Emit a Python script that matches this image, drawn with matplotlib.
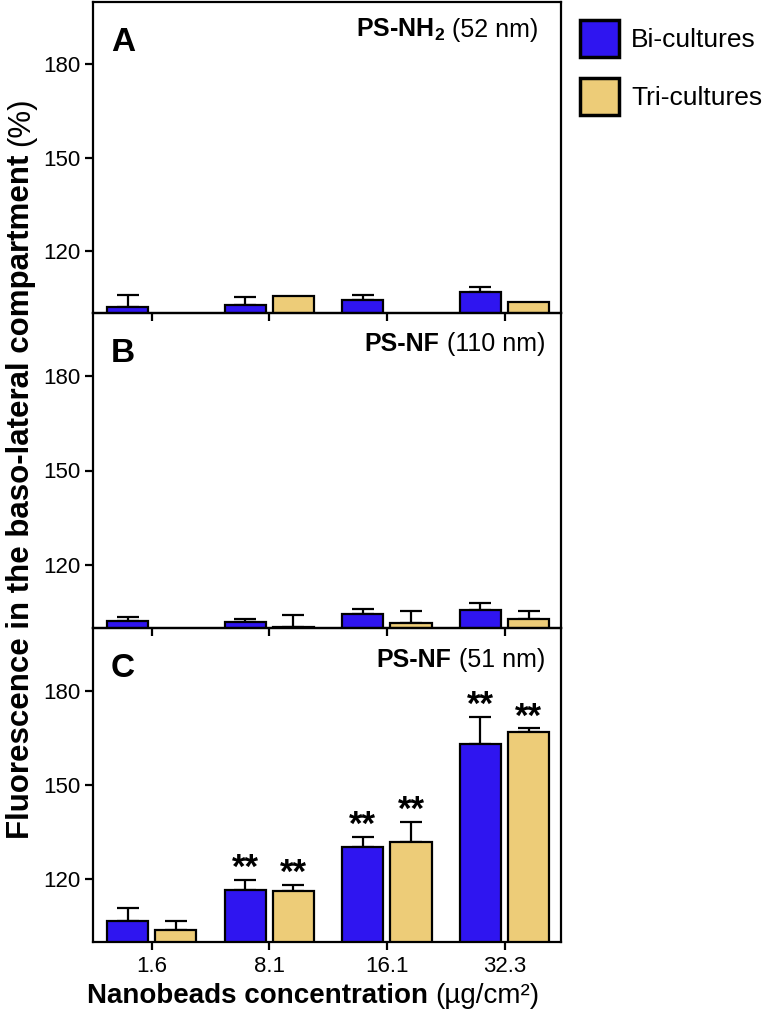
import numpy as np
import matplotlib
matplotlib.use("Agg")
import matplotlib.pyplot as plt
from matplotlib.patches import Patch

plt.rcParams['font.family'] = ['Liberation Sans', 'DejaVu Sans']
plt.rcParams['mathtext.fontset'] = 'custom'
plt.rcParams['mathtext.rm'] = 'Liberation Sans'
plt.rcParams['mathtext.bf'] = 'Liberation Sans:bold'

# ---------------- data ----------------
concentrations = ["1.6", "8.1", "16.1", "32.3"]
series_names = ["Bi-cultures", "Tri-cultures"]

panel_letters = ["A", "B", "C"]
panel_bold = ["PS-NH$_\\mathbf{2}$", "PS-NF", "PS-NF"]
panel_size = ["(52 nm)", "(110 nm)", "(51 nm)"]

# Panel A: PS-NH2 (52 nm)
a_bi = [101.9, 102.7, 104.3, 106.9]
a_bi_err = [4.0, 2.5, 1.6, 1.6]
a_tri = [np.nan, 105.5, np.nan, 103.5]
a_tri_err = [np.nan, 0.0, np.nan, 0.0]

# Panel B: PS-NF (110 nm)
b_bi = [102.3, 101.9, 104.6, 105.6]
b_bi_err = [1.2, 1.1, 1.5, 2.2]
b_tri = [np.nan, 100.4, 101.7, 103.0]
b_tri_err = [np.nan, 3.7, 3.6, 2.4]

# Panel C: PS-NF (51 nm)
c_bi = [106.6, 116.7, 130.3, 163.2]
c_bi_err = [4.2, 3.2, 3.1, 8.6]
c_tri = [103.7, 116.4, 131.7, 167.0]
c_tri_err = [2.9, 1.9, 6.5, 1.0]
c_bi_sig = ["", "**", "**", "**"]
c_tri_sig = ["", "**", "**", "**"]

panels = [
    (a_bi, a_bi_err, a_tri, a_tri_err, None, None),
    (b_bi, b_bi_err, b_tri, b_tri_err, None, None),
    (c_bi, c_bi_err, c_tri, c_tri_err, c_bi_sig, c_tri_sig),
]

yticks = [120, 150, 180]
ylim = (100, 200)

# ---------------- style ----------------
BLUE = "#2F15F0"
YELLOW = "#EDCC78"
W_PX, H_PX = 766, 1025
LW = 1.6

fig = plt.figure(figsize=(W_PX / 100, H_PX / 100), dpi=100)

def fx(px):
    return px / W_PX

def fy(px):
    return 1 - px / H_PX

left, right = 93, 561
bounds = [(2, 313), (313, 628), (628, 942)]

x = np.arange(len(concentrations))
bw = 0.35
off = 0.205

axes = []
for i, ((top, bot), (bi, bi_e, tri, tri_e, bi_s, tri_s)) in enumerate(zip(bounds, panels)):
    ax = fig.add_axes([fx(left), fy(bot), fx(right - left), (bot - top) / H_PX])
    ax.set_facecolor("none")
    axes.append(ax)
    bi = np.array(bi, float); tri = np.array(tri, float)
    bi_e = np.array(bi_e, float); tri_e = np.array(tri_e, float)
    for vals, errs, xs, col in [(bi, bi_e, x - off, BLUE), (tri, tri_e, x + off, YELLOW)]:
        ax.bar(xs, vals - ylim[0], bw, bottom=ylim[0], color=col,
               edgecolor="black", linewidth=LW, zorder=3)
        m = np.isfinite(vals) & np.isfinite(errs) & (errs > 0)
        ax.errorbar(xs[m], vals[m], yerr=[np.zeros(m.sum()), errs[m]], fmt="none",
                    ecolor="black", elinewidth=LW, capsize=8, capthick=LW, zorder=2)
    if bi_s is not None:
        for vals, errs, xs, sig in [(bi, bi_e, x - off, bi_s), (tri, tri_e, x + off, tri_s)]:
            for xx, v, e, s in zip(xs, vals, errs, sig):
                if s:
                    ax.annotate(s, (xx, v + e), xytext=(0, 1.5), textcoords="offset points",
                                ha="center", va="baseline", fontsize=25, fontweight="bold")
    ax.set_xlim(-0.5, 3.48)
    ax.set_ylim(*ylim)
    ax.set_yticks(yticks)
    ax.set_xticks(x)
    ax.tick_params(axis="both", direction="out", length=6, width=LW, labelsize=16, pad=3)
    ax.tick_params(axis="x", pad=4)
    for sp in ax.spines.values():
        sp.set_linewidth(LW)
    if i < 2:
        ax.set_xticklabels([])
    else:
        ax.set_xticklabels(concentrations)
    # panel letter
    ax.text(0.038, 0.843, panel_letters[i], transform=ax.transAxes, fontsize=24,
            fontweight="bold", ha="left", va="baseline")

renderer = fig.canvas.get_renderer()

# panel titles: bold part + regular part, right aligned
title_fs = 18
title_right = [538, 545, 545]
title_base = [37, 351, 667]
for i in range(3):
    t2 = fig.text(fx(title_right[i]), fy(title_base[i]), panel_size[i], fontsize=title_fs,
                  ha="right", va="baseline")
    ext = t2.get_window_extent(renderer)
    gap = 0.28 * title_fs * 100 / 72
    fig.text((ext.x0 - gap) / W_PX, fy(title_base[i]), panel_bold[i], fontsize=title_fs,
             fontweight="bold", ha="right", va="baseline")

# x label
xl_size = 20
t1 = fig.text(0, fy(1003), "Nanobeads concentration", fontsize=xl_size,
              fontweight="bold", ha="left", va="baseline")
t2 = fig.text(0, fy(1003), "(µg/cm²)", fontsize=xl_size, ha="left", va="baseline")
w1 = t1.get_window_extent(renderer).width
w2 = t2.get_window_extent(renderer).width
gap = 0.28 * xl_size * 100 / 72
total = w1 + gap + w2
start = 313 - total / 2
t1.set_x(fx(start))
t2.set_x(fx(start + w1 + gap))

# y label (rotated)
yl_size = 22.5
y1 = fig.text(fx(29), 0, "Fluorescence in the baso-lateral compartment", fontsize=yl_size,
              fontweight="bold", rotation=90, rotation_mode="anchor", ha="left", va="baseline")
y2 = fig.text(fx(29), 0, "(%)", fontsize=yl_size, rotation=90, rotation_mode="anchor",
              ha="left", va="baseline")
h1 = y1.get_window_extent(renderer).height
h2 = y2.get_window_extent(renderer).height
gap = 0.28 * yl_size * 100 / 72
total = h1 + gap + h2
center = 468
startp = center + total / 2
y1.set_y(fy(startp))
y2.set_y(fy(startp - h1 - gap))

# legend
handles = [Patch(facecolor=BLUE, edgecolor="black", linewidth=2.5),
           Patch(facecolor=YELLOW, edgecolor="black", linewidth=2.5)]
fig.legend(handles, series_names, loc="upper left", bbox_to_anchor=(fx(580), fy(20)),
           frameon=False, fontsize=19, handlelength=1.48, handleheight=1.78,
           handletextpad=0.45, labelspacing=0.8, borderpad=0, borderaxespad=0)

fig.savefig("out.png", dpi=100)
